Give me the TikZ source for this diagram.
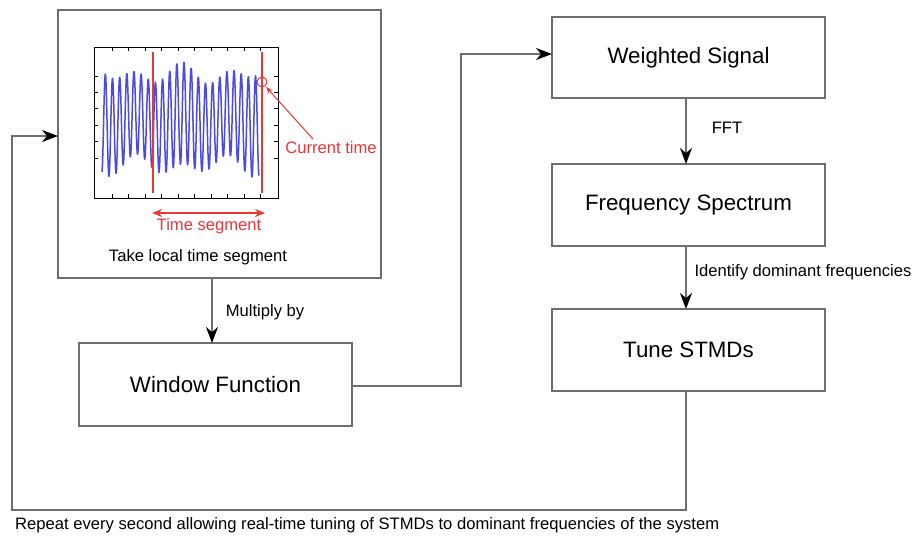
\documentclass[tikz,border=0pt]{standalone}
\usepackage{fontspec}
\setmainfont{Liberation Sans}
\usetikzlibrary{arrows.meta}
\definecolor{linegray}{RGB}{110,110,110}
\definecolor{sigblue}{RGB}{75,75,225}
\definecolor{sigred}{RGB}{232,55,55}
\tikzset{
  box/.style={draw=linegray, line width=1.8pt, minimum width=273pt, minimum height=82pt,
    outer sep=0pt, inner sep=0pt, font=\fontsize{22.3}{26}\selectfont},
  small/.style={font=\fontsize{16.6}{19}\selectfont, inner sep=0pt},
  redtxt/.style={small, text=sigred},
  conn/.style={draw=linegray, line width=1.6pt},
  arr/.style={conn, -{Stealth[length=16pt,width=12pt,inset=5pt,color=black]}},
  tick/.style={black, line width=0.7pt},
  redline/.style={sigred, line width=1.4pt},
}
\begin{document}
\begin{tikzpicture}[x=1pt,y=-1pt]
\useasboundingbox (0,0) rectangle (914,536);

% boxes
\node[box, minimum width=323pt, minimum height=268pt] (seg) at (219.5,144) {};
\node[box, minimum height=83pt] (win) at (215.5,384.5) {Window Function};
\node[box, minimum height=81pt] (ws) at (688.5,57.5) {Weighted Signal};
\node[box] (fs) at (688.5,205) {Frequency Spectrum};
\node[box] (tune) at (688.5,350) {Tune STMDs};

% plot inside the first box
\draw[sigblue, line width=1.5pt, line join=round] plot[domain=2:159, samples=900]
  ({100+\x}, {120 + (46+5*cos(4.5*\x))*sin(50.35*\x) + 7*sin(7.66*\x)});
\draw[black, line width=1pt] (94,47) rectangle (278,198);
\foreach \t in {0,...,9} {
  \draw[tick] ({112+16.5*\t},198) -- ++(0,-4);
  \draw[tick] ({112+16.5*\t},47) -- ++(0,4);
}
\foreach \t in {0,...,5} {
  \draw[tick] (94,{76+16.4*\t}) -- ++(4,0);
  \draw[tick] (278,{76+16.4*\t}) -- ++(-4,0);
}
\draw[redline] (153,52) -- (153,193);
\draw[redline] (262,52) -- (262,193);
\draw[sigred, line width=1pt] (262,82) circle[radius=5pt];
\node[redtxt] (ct) at (331,148) {Current time};
\draw[sigred, line width=1pt, -{Stealth[length=7pt,width=5pt]}] (313,139) -- (266,87);
\draw[redline, {Stealth[length=10pt,width=8pt]}-{Stealth[length=10pt,width=8pt]}] (152,213) -- (265,213);
\node[redtxt] (tseg) at (209,226.5) {Time segment};
\node[small] (tl) at (198,257) {Take local time segment};

% helper coordinates
\coordinate (mx) at (212,0);
\coordinate (jx) at (461,0);
\coordinate (wy) at (0,386);
\coordinate (wsy) at (0,54);
\coordinate (rx) at (686,0);
\coordinate (by) at (0,510);
\coordinate (lx) at (12,0);
\coordinate (sy) at (0,136);

% connectors
\draw[arr] (seg.south -| mx) -- (win.north -| mx);
\node[small] (mul) at (265,312) {Multiply by};
\draw[arr] (win.east |- wy) -| (jx |- wsy) -- (ws.west |- wsy);
\draw[arr] (ws.south -| rx) -- (fs.north -| rx);
\node[small] (fft) at (727,128) {FFT};
\draw[arr] (fs.south -| rx) -- (tune.north -| rx);
\node[small] (idf) at (803,272) {Identify dominant frequencies};
\draw[arr] (tune.south -| rx) -- (rx |- by) -| (lx |- sy) -- (seg.west |- sy);

\node[small, anchor=west] (rep) at (15,525) {Repeat every second allowing real-time tuning of STMDs to dominant frequencies of the system};
\end{tikzpicture}
\end{document}
